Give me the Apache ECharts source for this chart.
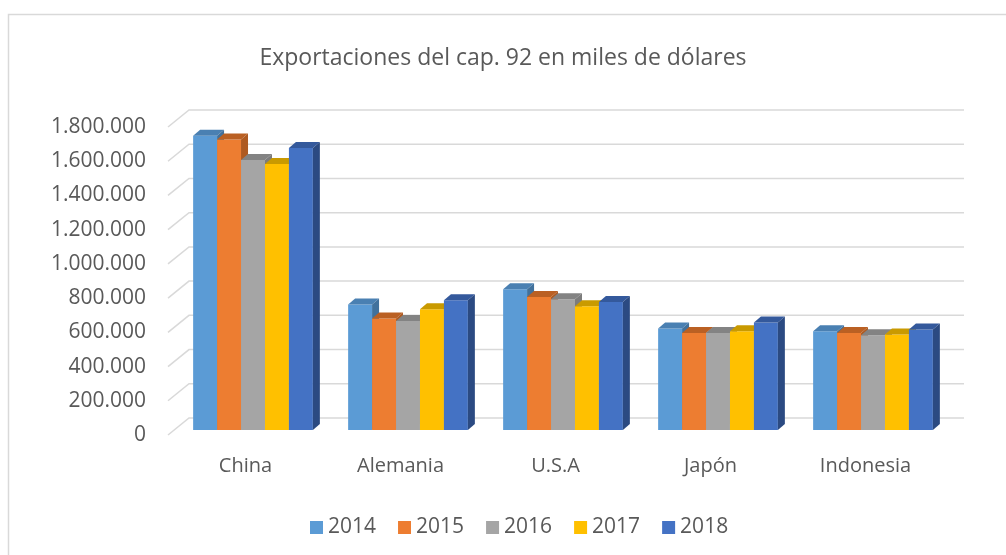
<!DOCTYPE html>
<html>
<head>
<meta charset="utf-8">
<script src="https://cdn.jsdelivr.net/npm/echarts@6/dist/echarts.min.js"></script>
<style>
  html, body { margin: 0; padding: 0; background: #fff; }
  #chart { width: 1006px; height: 555px; }
</style>
</head>
<body>
<div id="chart"></div>
<script>
// data (miles de dólares)
const paises = ['China', 'Alemania', 'U.S.A', 'Japón', 'Indonesia'];
const anios = ['2014', '2015', '2016', '2017', '2018'];
const v2014 = [1720000, 733000, 822000, 593000, 577000];
const v2015 = [1697000, 651000, 777000, 567000, 567000];
const v2016 = [1578000, 637000, 764000, 567000, 554000];
const v2017 = [1555000, 706000, 723000, 577000, 558000];
const v2018 = [1648000, 758000, 748000, 628000, 587000];
const yTicks = [0, 200000, 400000, 600000, 800000, 1000000, 1200000, 1400000, 1600000, 1800000];

const valores = [v2014, v2015, v2016, v2017, v2018];
// front face, top face, side face
const colores = [
  ['#5B9BD5', '#4A80B2', '#41719C'],
  ['#ED7D31', '#BA6023', '#AE5A21'],
  ['#A5A5A5', '#838383', '#7C7C7C'],
  ['#FFC000', '#C99A00', '#BF9000'],
  ['#4472C4', '#34599C', '#2B4A82']
];

// pseudo 3d offsets
const BACK_DX = 21, BACK_DY = 17;   // back wall vs front plane
const BAR_DX = 7.5, BAR_DY = 5;     // bar front vs front plane
const DEPTH_DX = 7, DEPTH_DY = 6;   // bar thickness

function fmt(v) {
  return String(v).replace(/\B(?=(\d{3})+(?!\d))/g, '.');
}

const myChart = echarts.init(document.getElementById('chart'));

let series = [];

// back wall grid lines + floor/side diagonals
series.push({
  type: 'custom',
  name: 'grid',
  silent: true,
  z: 1,
  data: yTicks.map(function (t) { return [0, t]; }),
  renderItem: function (params, api) {
    let cs = params.coordSys;
    let p = api.coord([0, api.value(1)]);
    let x0 = cs.x, y = p[1];
    return {
      type: 'polyline',
      shape: { points: [[x0, y], [x0 + BACK_DX, y - BACK_DY], [x0 + cs.width + BACK_DX, y - BACK_DY]] },
      style: { stroke: '#D9D9D9', lineWidth: 1.5, fill: null }
    };
  }
});

anios.forEach(function (anio, s) {
  let col = colores[s];
  series.push({
    type: 'custom',
    name: anio,
    z: 2 + s,
    itemStyle: { color: col[0] },
    data: valores[s].map(function (v, i) { return [i, v]; }),
    renderItem: function (params, api) {
      let ci = api.value(0);
      let top = api.coord([ci, api.value(1)]);
      let base = api.coord([ci, 0]);
      let band = api.size([1, 0])[0];
      let bw = band * 0.1545;
      let x = top[0] + BAR_DX - 2.5 * bw + s * bw;
      let yt = top[1] - BAR_DY;
      let yb = base[1] - BAR_DY;
      return {
        type: 'group',
        children: [
          {
            type: 'rect',
            shape: { x: x, y: yt, width: bw, height: yb - yt },
            style: { fill: col[0] }
          },
          {
            type: 'polygon',
            shape: { points: [[x, yt], [x + DEPTH_DX, yt - DEPTH_DY], [x + bw + DEPTH_DX, yt - DEPTH_DY], [x + bw, yt]] },
            style: { fill: col[1] }
          },
          {
            type: 'polygon',
            shape: { points: [[x + bw, yt], [x + bw + DEPTH_DX, yt - DEPTH_DY], [x + bw + DEPTH_DX, yb - DEPTH_DY], [x + bw, yb]] },
            style: { fill: col[2] }
          }
        ]
      };
    }
  });
});

var option = {
  backgroundColor: '#fff',
  animation: false,
  color: colores.map(function (c) { return c[0]; }),
  textStyle: { fontFamily: 'Open Sans', color: '#595959' },
  title: {
    text: 'Exportaciones del cap. 92 en miles de dólares',
    left: 'center',
    top: 42,
    textStyle: { fontFamily: 'Open Sans', fontSize: 23, fontWeight: 'normal', color: '#595959' }
  },
  legend: {
    data: anios,
    left: 305,
    top: 512,
    icon: 'rect',
    itemWidth: 13,
    itemHeight: 13,
    itemGap: 22,
    textStyle: { fontFamily: 'Open Sans', fontSize: 21, color: '#595959' }
  },
  grid: { left: 168, right: 63, top: 127, bottom: 120 },
  xAxis: {
    type: 'category',
    data: paises,
    axisLine: { show: false },
    axisTick: { show: false },
    axisLabel: { margin: 21, fontFamily: 'Open Sans', fontSize: 20, color: '#595959' }
  },
  yAxis: {
    type: 'value',
    min: 0,
    max: 1800000,
    interval: 200000,
    axisLine: { show: false },
    axisTick: { show: false },
    splitLine: { show: false },
    axisLabel: { margin: 22, fontFamily: 'Open Sans', fontSize: 21, color: '#595959', formatter: fmt }
  },
  graphic: [{
    type: 'rect',
    silent: true,
    shape: { x: 8.5, y: 14.5, width: 1100, height: 700 },
    style: { fill: null, stroke: '#D9D9D9', lineWidth: 1.5 }
  }],
  series: series
};
myChart.setOption(option);
</script>
</body>
</html>
